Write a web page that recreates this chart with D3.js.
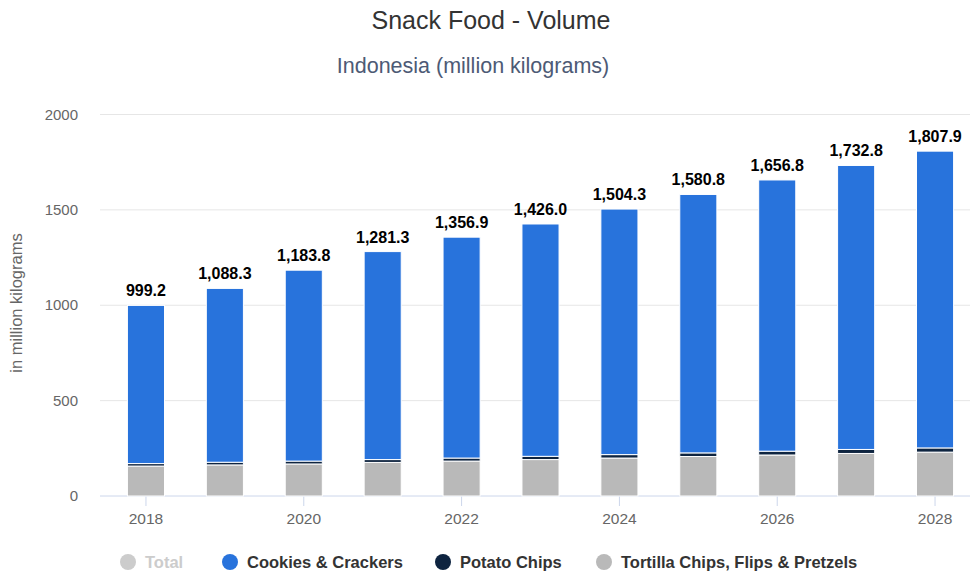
<!DOCTYPE html>
<html>
<head>
<meta charset="utf-8">
<script src="https://cdn.jsdelivr.net/npm/d3@7"></script>
<style>
body { margin: 0; background: #fff; font-family: "Liberation Sans", Arial, sans-serif; }
</style>
</head>
<body>
<div id="chart"></div>
<script>
var years = [2018, 2019, 2020, 2021, 2022, 2023, 2024, 2025, 2026, 2027, 2028]
var totals = [999.2, 1088.3, 1183.8, 1281.3, 1356.9, 1426.0, 1504.3, 1580.8, 1656.8, 1732.8, 1807.9]
var tortilla = [157, 163, 168, 176, 183, 191, 199, 207, 215, 223, 230]
var potato = [13, 14, 15, 15, 16, 17, 18, 19, 20, 21, 22]
var cookies = totals.map((t, i) => +(t - tortilla[i] - potato[i]).toFixed(1))
var yTicks = [0, 500, 1000, 1500, 2000]
var legendItems = ["Total", "Cookies & Crackers", "Potato Chips", "Tortilla Chips, Flips & Pretzels"]

var width = 972, height = 577
var colors = { tortilla: "#b9b9b9", potato: "#0e2440", cookies: "#2873dc" }

var svg = d3.select("#chart").append("svg")
    .attr("width", width)
    .attr("height", height)

svg.append("text").attr("x", 491).attr("y", 29)
    .attr("text-anchor", "middle").attr("font-size", 25).attr("fill", "#333")
    .text("Snack Food - Volume")
svg.append("text").attr("x", 473).attr("y", 73)
    .attr("text-anchor", "middle").attr("font-size", 21.5).attr("fill", "#4d5a75")
    .text("Indonesia (million kilograms)")

var x = d3.scaleBand().domain(years).range([106.5, 974.5]).paddingInner(0.53).paddingOuter(0.265)
var y = d3.scaleLinear().domain([0, 2000]).range([496, 114.5])

// gridlines
svg.append("g").selectAll("line").data(yTicks).enter().append("line")
    .attr("x1", 100).attr("x2", 970)
    .attr("y1", d => y(d)).attr("y2", d => y(d))
    .attr("stroke", d => d == 0 ? "#ccd6eb" : "#e6e6e6")
    .attr("stroke-width", 1)

svg.append("g").selectAll("text").data(yTicks).enter().append("text")
    .attr("x", 78).attr("y", d => y(d) + 5)
    .attr("text-anchor", "end").attr("font-size", 15).attr("fill", "#666")
    .text(d => d)

svg.append("text")
    .attr("transform", "translate(22,303) rotate(-90)")
    .attr("text-anchor", "middle").attr("font-size", 16.5).attr("fill", "#666")
    .text("in million kilograms")

// x ticks
var xg = svg.append("g")
years.forEach(function (yr, i) {
    if (i % 2 != 0) return
    var cx = x(yr) + x.bandwidth() / 2
    xg.append("line").attr("x1", cx).attr("x2", cx).attr("y1", 496).attr("y2", 506)
        .attr("stroke", "#ccd6eb")
    xg.append("text").attr("x", cx).attr("y", 524)
        .attr("text-anchor", "middle").attr("font-size", 15.5).attr("fill", "#666")
        .text(yr)
})

// stacked bars
var rows = years.map((yr, i) => ({ year: yr, tortilla: tortilla[i], potato: potato[i], cookies: cookies[i] }))
var stack = d3.stack().keys(["tortilla", "potato", "cookies"])(rows)

svg.append("g").selectAll("g").data(stack).enter().append("g")
    .attr("fill", d => colors[d.key])
    .selectAll("rect").data(d => d).enter().append("rect")
    .attr("x", d => x(d.data.year))
    .attr("width", x.bandwidth())
    .attr("y", d => y(d[1]))
    .attr("height", d => y(d[0]) - y(d[1]))
    .attr("stroke", "#fff")
    .attr("stroke-width", 1)

// total labels
svg.append("g").selectAll("text").data(years).enter().append("text")
    .attr("x", (d) => x(d) + x.bandwidth() / 2)
    .attr("y", (d, i) => y(totals[i]) - 9)
    .attr("text-anchor", "middle").attr("font-size", 16).attr("font-weight", "bold")
    .attr("fill", "#000")
    .text((d, i) => d3.format(",.1f")(totals[i]))

// legend
var legendX = [128, 230, 443, 604]
var legendColors = ["#cccccc", colors.cookies, colors.potato, colors.tortilla]
var lg = svg.append("g")
legendItems.forEach(function (name, i) {
    lg.append("circle").attr("cx", legendX[i]).attr("cy", 562).attr("r", 8)
        .attr("fill", legendColors[i])
    lg.append("text").attr("x", legendX[i] + 17).attr("y", 568)
        .attr("font-size", 16.5).attr("font-weight", "bold")
        .attr("fill", i == 0 ? "#cccccc" : "#333")
        .text(name)
})
</script>
</body>
</html>
